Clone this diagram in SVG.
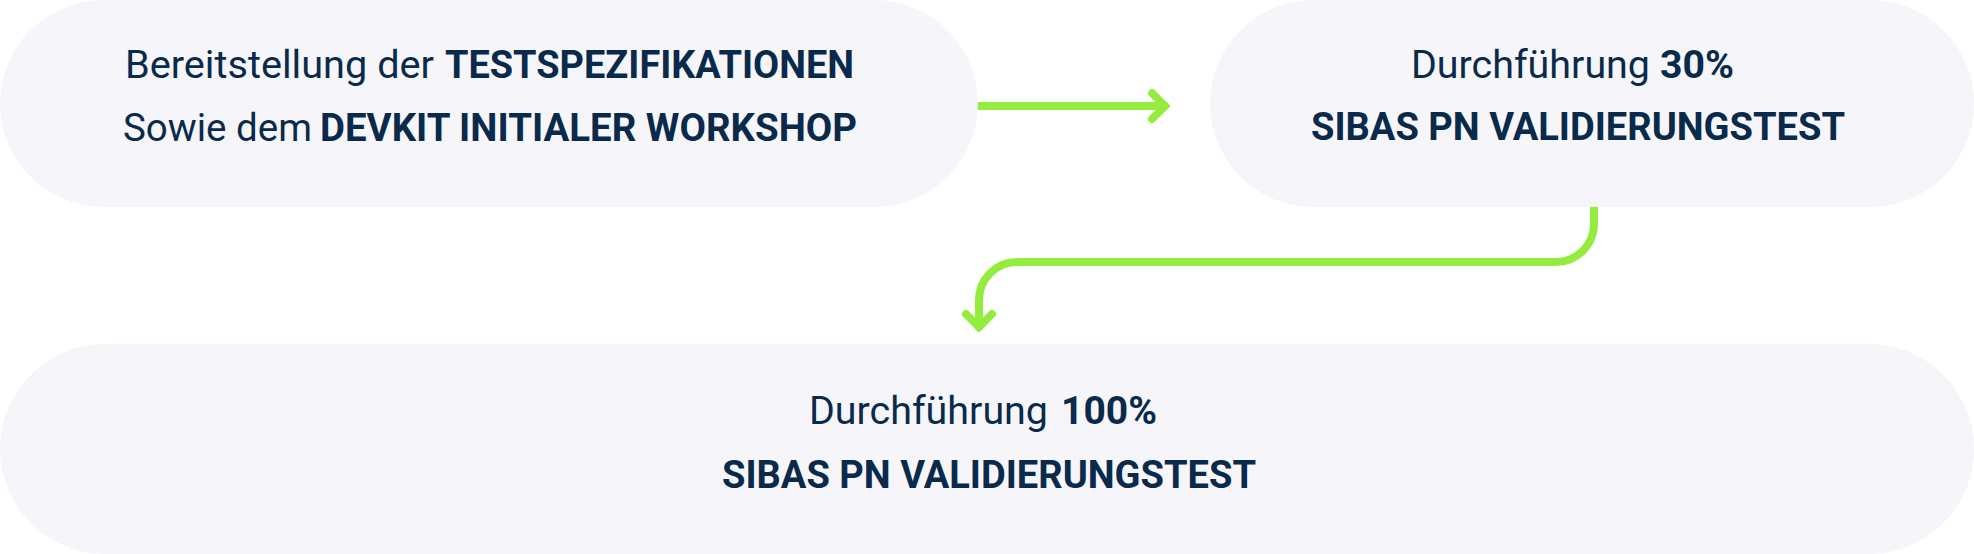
<svg xmlns="http://www.w3.org/2000/svg" width="1974" height="554" viewBox="0 0 1974 554">
  <style>
    .node { fill: #F6F6FA; }
    .t { font-family: Roboto, "Liberation Sans", sans-serif; font-size: 38px; fill: #0A2A4C; }
    .r { font-weight: 400; }
    .b { font-weight: 700; }
    .conn { fill: none; stroke: #94EC3E; stroke-width: 8; stroke-linecap: round; stroke-linejoin: round; }
    .head { fill: none; stroke: #94EC3E; stroke-width: 8; stroke-linecap: round; stroke-linejoin: miter; stroke-miterlimit: 10; }
  </style>
  <defs>
    <marker id="chev" markerUnits="userSpaceOnUse" viewBox="-30 -30 60 60" markerWidth="60" markerHeight="60" refX="0" refY="0" orient="auto" overflow="visible">
      <path class="head" d="M-13,-13 L0,0 L-13,13"/>
    </marker>
  </defs>
  <rect width="1974" height="554" fill="#FFFFFF"/>

  <g id="connectors">
    <path id="c1" class="conn" d="M978,106 H1165" marker-end="url(#chev)"/>
    <path id="c2" class="conn" d="M1594,207 V224 A38,38 0 0 1 1556,262 H1017 A38,38 0 0 0 979,300 V327" marker-end="url(#chev)"/>
  </g>

  <g id="node1">
    <rect class="node" x="0" y="0" width="978" height="207" rx="103.5" ry="103.5"/>
    <text class="t r" x="125" y="78" textLength="309" lengthAdjust="spacingAndGlyphs">Bereitstellung der</text>
    <text class="t b" x="445" y="78" textLength="409" lengthAdjust="spacingAndGlyphs">TESTSPEZIFIKATIONEN</text>
    <text class="t r" x="123" y="141" textLength="189" lengthAdjust="spacingAndGlyphs">Sowie dem</text>
    <text class="t b" x="320" y="141" textLength="537" lengthAdjust="spacingAndGlyphs">DEVKIT INITIALER WORKSHOP</text>
  </g>

  <g id="node2">
    <rect class="node" x="1210" y="0" width="764" height="207" rx="103.5" ry="103.5"/>
    <text class="t r" x="1411" y="77.5" textLength="239" lengthAdjust="spacingAndGlyphs">Durchführung</text>
    <text class="t b" x="1660" y="77.5" textLength="74" lengthAdjust="spacingAndGlyphs">30%</text>
    <text class="t b" x="1311" y="140" textLength="534" lengthAdjust="spacingAndGlyphs">SIBAS PN VALIDIERUNGSTEST</text>
  </g>

  <g id="node3">
    <rect class="node" x="0" y="344" width="1974" height="210" rx="105" ry="105"/>
    <text class="t r" x="809" y="424" textLength="239" lengthAdjust="spacingAndGlyphs">Durchführung</text>
    <text class="t b" x="1061" y="424" textLength="96" lengthAdjust="spacingAndGlyphs">100%</text>
    <text class="t b" x="722" y="488" textLength="534" lengthAdjust="spacingAndGlyphs">SIBAS PN VALIDIERUNGSTEST</text>
  </g>
</svg>
